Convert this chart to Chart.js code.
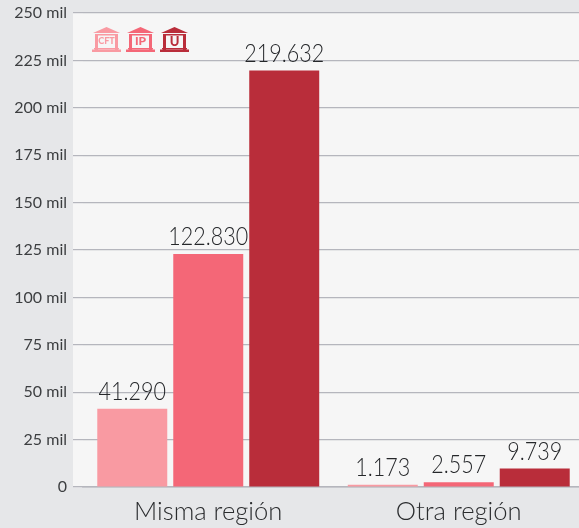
<!DOCTYPE html>
<html><head><meta charset="utf-8">
<style>html,body{margin:0;padding:0;background:#e6e7e9;overflow:hidden;width:579px;height:528px}#w{position:relative;width:579px;height:528px;overflow:hidden}canvas{display:block}</style>
<script src="https://cdn.jsdelivr.net/npm/chart.js@4"></script>
</head><body><div id="w"><canvas id="c" width="584" height="528"></canvas></div>
<script>
const categories = ["Misma región", "Otra región"];
const seriesNames = ["CFT", "IP", "U"];
const cftValues = [41290, 1173];
const ipValues = [122830, 2557];
const uValues = [219632, 9739];
const seriesColors = ["#f99aa2", "#f46777", "#b92d3a"];
const FONT = "Lato, 'Open Sans', sans-serif";
const fmt = v => String(v).replace(/\B(?=(\d{3})+(?!\d))/g, ".");

const bgPlugin = { id:"bg", beforeDraw(ch){
  const {ctx,chartArea:a}=ch; ctx.save();
  ctx.fillStyle="#e6e7e9"; ctx.fillRect(0,0,ch.width,ch.height);
  ctx.fillStyle="#f6f6f6"; ctx.fillRect(a.left-10,a.top,a.right-a.left+10,a.bottom-a.top);
  ctx.restore();
}};
const labelPlugin = { id:"vals", afterDatasetsDraw(ch){
  const {ctx}=ch; ctx.save();
  ctx.font="300 25px "+FONT; ctx.fillStyle="#25272a"; ctx.textAlign="center"; ctx.textBaseline="alphabetic";
  ch.data.datasets.forEach((d,i)=>ch.getDatasetMeta(i).data.forEach((b,j)=>{
    ctx.save(); ctx.translate(b.x,b.y-9); ctx.scale(0.86,1);
    ctx.fillText(fmt(d.data[j]),0,0); ctx.restore();
  }));
  ctx.restore();
}};
function building(ctx,x,y,color,text,fs){
  ctx.fillStyle=color;
  ctx.beginPath();ctx.moveTo(x+14.5,y);ctx.lineTo(x+28,y+6);ctx.lineTo(x+1,y+6);ctx.closePath();ctx.fill();
  ctx.fillRect(x+3,y+7,23,1.5);
  ctx.fillRect(x+3,y+8,3,15);
  ctx.fillRect(x+23,y+8,3,15);
  ctx.fillRect(x+2,y+21,25,1.5);
  ctx.fillRect(x,y+22.5,29,2.5);
  ctx.font="900 "+fs+"px "+FONT; ctx.textAlign="center"; ctx.textBaseline="middle";
  ctx.fillText(text,x+14.5,y+14.5);
}
const iconPlugin = { id:"icons", afterDraw(ch){
  const {ctx}=ch; ctx.save();
  const xs=[92,126,160], fs=[9,12,13];
  seriesNames.forEach((n,i)=>building(ctx,xs[i],27,seriesColors[i],n,fs[i]));
  ctx.restore();
}};
new Chart(document.getElementById("c"),{
  type:"bar",
  data:{labels:categories,datasets:[
    {label:seriesNames[0],data:cftValues,backgroundColor:seriesColors[0]},
    {label:seriesNames[1],data:ipValues,backgroundColor:seriesColors[1]},
    {label:seriesNames[2],data:uValues,backgroundColor:seriesColors[2]}
  ]},
  options:{
    responsive:false,animation:false,
    layout:{padding:{top:13,right:0,left:0,bottom:0}},
    datasets:{bar:{barPercentage:0.921,categoryPercentage:0.91}},
    plugins:{legend:{display:false},tooltip:{enabled:false}},
    scales:{
      x:{
        grid:{display:false,drawTicks:false},
        border:{display:true,color:"#b5b6bd",width:1.5},
        ticks:{color:"#2a2c2e",font:{family:FONT,size:25.6,weight:"300"},padding:9,maxRotation:0},
        afterFit(s){s.height=41;}
      },
      y:{
        min:0,max:250000,
        afterFit(s){s.width=83;s.paddingTop=0;s.paddingBottom=0;},
        grid:{color:"#b5b6bd",lineWidth:1.2,tickLength:10,drawTicks:true},
        border:{display:false},
        ticks:{stepSize:25000,color:"#3c3e40",padding:6,font:{family:FONT,size:16,weight:"400"},
          callback:v=>v===0?"0":(v/1000)+" mil"}
      }
    }
  },
  plugins:[bgPlugin,labelPlugin,iconPlugin]
});
</script></body></html>
